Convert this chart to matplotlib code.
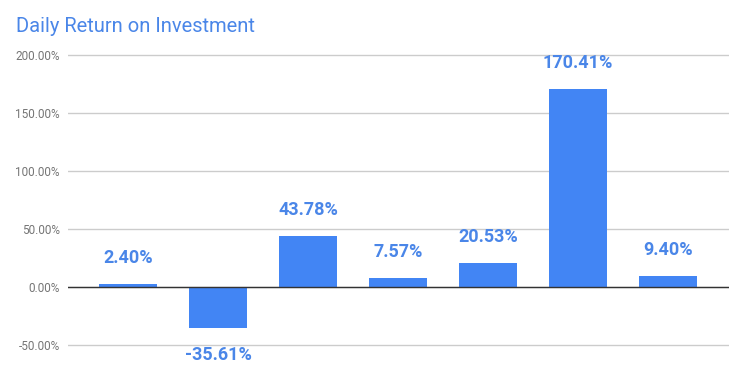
import matplotlib
matplotlib.use("Agg")
import matplotlib.pyplot as plt
from matplotlib.ticker import FuncFormatter

plt.rcParams['font.family'] = ['Roboto', 'DejaVu Sans']

# data
days = ["1", "2", "3", "4", "5", "6", "7"]
returns = [0.0240, -0.3561, 0.4378, 0.0757, 0.2053, 1.7041, 0.0940]
yticks = [-0.5, 0.0, 0.5, 1.0, 1.5, 2.0]

bar_color = "#4285f4"
label_color = "#4a86e8"

fig = plt.figure(figsize=(7.43, 3.67), dpi=100)
ax = fig.add_axes([68 / 743, 1 - 347 / 367, (729 - 68) / 743, (347 - 53) / 367])

x = range(len(days))
ax.bar(x, returns, width=0.645, color=bar_color, zorder=3)

for i, v in zip(x, returns):
    off = 26 if v >= 0 else -27
    ax.annotate(f"{v * 100:.2f}%", (i, v), xytext=(0, off * 0.72),
                textcoords="offset points", ha="center", va="center",
                fontsize=13, fontweight="bold", color=label_color)

ax.set_ylim(-0.5 - 2.5 * 2 / 290, 2.0 + 2.5 * 2 / 290)
ax.set_xlim(-0.667, 6.68)
ax.set_yticks(yticks)
ax.yaxis.set_major_formatter(FuncFormatter(lambda v, p: f"{v * 100:.2f}%"))
ax.set_xticks([])
ax.grid(axis="y", color="#cccccc", linewidth=1, zorder=0)
ax.axhline(0, color="#333333", linewidth=1, zorder=4)
ax.tick_params(axis="y", length=0, pad=6, labelsize=8.5, labelcolor="#757575")
for s in ax.spines.values():
    s.set_visible(False)

fig.text(16 / 743, 1 - 27 / 367, "Daily Return on Investment", fontsize=14.5,
         color=label_color, ha="left", va="center")

fig.savefig("out.png", dpi=100)
